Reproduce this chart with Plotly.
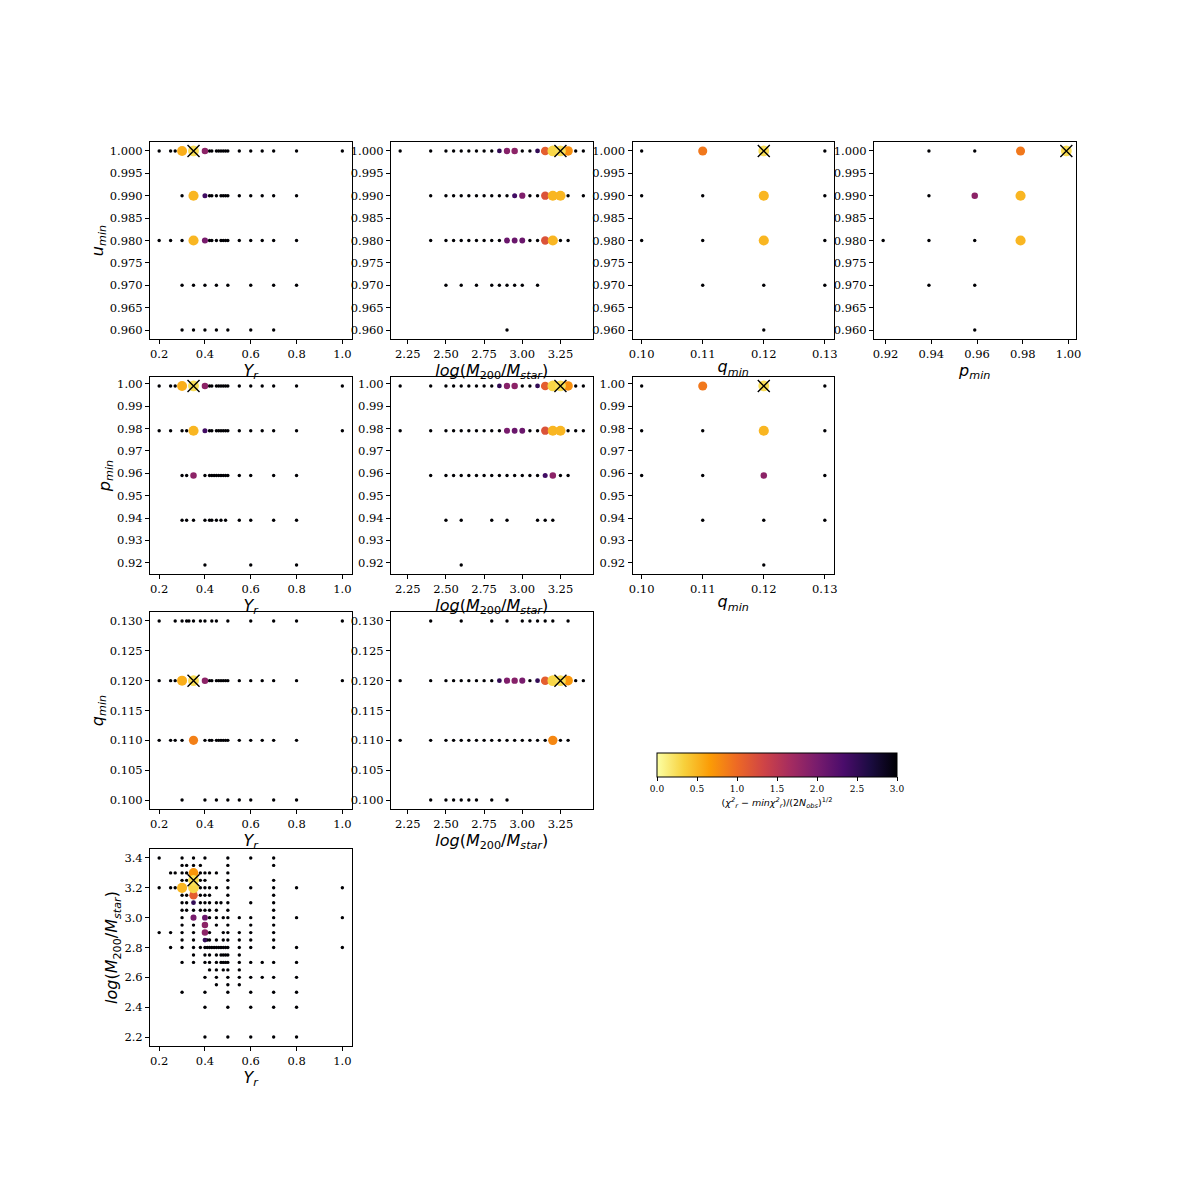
import plotly.graph_objects as go

# ---------------- data ----------------
# parameter values of the best model (marked with a cross)
BEST = {"Y_r": 0.35, "logM": 3.25, "q": 0.12, "p": 0.999, "u": 1.0}
BLACK_LEVEL = 3.0  # points at or beyond the top of the colour scale

# Panel 1: Y_r vs u_min  (rows: u_min -> Y_r values of black points)
P1_BLACK = {
    1.00: [0.2, 0.25, 0.27, 0.42, 0.43, 0.45, 0.46, 0.47, 0.48, 0.49, 0.5, 0.55, 0.6, 0.65, 0.7, 0.8, 1.0],
    0.99: [0.3, 0.42, 0.43, 0.45, 0.47, 0.48, 0.49, 0.5, 0.55, 0.6, 0.65, 0.7, 0.8],
    0.98: [0.2, 0.25, 0.3, 0.42, 0.43, 0.45, 0.47, 0.48, 0.49, 0.5, 0.55, 0.6, 0.65, 0.7, 0.8],
    0.97: [0.3, 0.35, 0.4, 0.45, 0.5, 0.6, 0.7, 0.8],
    0.96: [0.3, 0.35, 0.4, 0.45, 0.5, 0.6, 0.7],
}
P1_COLOR = [(0.3, 1.0, 0.55), (0.35, 1.0, 0.25), (0.4, 1.0, 1.85),
            (0.35, 0.99, 0.5), (0.4, 0.99, 2.4),
            (0.35, 0.98, 0.5), (0.4, 0.98, 2.0)]

# Panel 2: logM vs u_min
P2_BLACK = {
    1.00: [2.2, 2.4, 2.5, 2.55, 2.6, 2.65, 2.7, 2.75, 2.8, 3.0, 3.05, 3.35, 3.4],
    0.99: [2.4, 2.5, 2.55, 2.6, 2.65, 2.7, 2.75, 2.8, 2.85, 2.9, 3.05, 3.1, 3.3, 3.4],
    0.98: [2.4, 2.5, 2.55, 2.6, 2.65, 2.7, 2.75, 2.8, 2.85, 3.05, 3.1, 3.25, 3.3],
    0.97: [2.5, 2.6, 2.7, 2.8, 2.85, 2.9, 2.95, 3.0, 3.1],
    0.96: [2.9],
}
P2_COLOR = [(2.85, 1.0, 2.5), (2.9, 1.0, 1.9), (2.95, 1.0, 1.85), (3.1, 1.0, 2.5),
            (3.15, 1.0, 1.1), (3.2, 1.0, 0.3), (3.25, 1.0, 0.25), (3.3, 1.0, 0.75),
            (2.95, 0.99, 2.4), (3.0, 0.99, 1.95), (3.15, 0.99, 1.2), (3.2, 0.99, 0.5), (3.25, 0.99, 0.5),
            (2.9, 0.98, 2.1), (2.95, 0.98, 2.1), (3.0, 0.98, 2.1), (3.15, 0.98, 1.2), (3.2, 0.98, 0.5)]

# Panel 3: q_min vs u_min
P3_BLACK = {
    1.00: [0.10, 0.13],
    0.99: [0.10, 0.11, 0.13],
    0.98: [0.10, 0.11, 0.13],
    0.97: [0.11, 0.12, 0.13],
    0.96: [0.12],
}
P3_COLOR = [(0.11, 1.0, 0.9), (0.12, 1.0, 0.25), (0.12, 0.99, 0.5), (0.12, 0.98, 0.5)]

# Panel 4: p_min vs u_min
P4_BLACK = {
    1.00: [0.939, 0.959],
    0.99: [0.939],
    0.98: [0.919, 0.939, 0.959],
    0.97: [0.939, 0.959],
    0.96: [0.959],
}
P4_COLOR = [(0.979, 1.0, 0.9), (0.999, 1.0, 0.25), (0.959, 0.99, 1.85),
            (0.979, 0.99, 0.5), (0.979, 0.98, 0.5)]

# Panel 5: Y_r vs p_min
P5_BLACK = {
    0.999: [0.2, 0.25, 0.27, 0.42, 0.43, 0.45, 0.46, 0.47, 0.48, 0.49, 0.5, 0.55, 0.6, 0.65, 0.7, 0.8, 1.0],
    0.979: [0.2, 0.25, 0.3, 0.32, 0.42, 0.43, 0.45, 0.46, 0.47, 0.48, 0.49, 0.5, 0.55, 0.6, 0.65, 0.7, 0.8, 1.0],
    0.959: [0.3, 0.32, 0.4, 0.42, 0.43, 0.44, 0.45, 0.46, 0.47, 0.48, 0.49, 0.5, 0.55, 0.6, 0.7, 0.8],
    0.939: [0.3, 0.32, 0.35, 0.4, 0.42, 0.43, 0.45, 0.47, 0.49, 0.55, 0.6, 0.7, 0.8],
    0.919: [0.4, 0.6, 0.8],
}
P5_COLOR = [(0.3, 0.999, 0.55), (0.35, 0.999, 0.25), (0.4, 0.999, 1.85),
            (0.35, 0.979, 0.5), (0.4, 0.979, 2.4), (0.35, 0.959, 1.85)]

# Panel 6: logM vs p_min
P6_BLACK = {
    0.999: [2.2, 2.4, 2.5, 2.55, 2.6, 2.65, 2.7, 2.75, 2.8, 3.0, 3.05, 3.35, 3.4],
    0.979: [2.2, 2.4, 2.5, 2.55, 2.6, 2.65, 2.7, 2.75, 2.8, 2.85, 3.05, 3.1, 3.3, 3.35, 3.4],
    0.959: [2.4, 2.5, 2.55, 2.6, 2.65, 2.7, 2.75, 2.8, 2.85, 2.9, 2.95, 3.0, 3.05, 3.1, 3.25, 3.3],
    0.939: [2.5, 2.6, 2.8, 2.9, 3.1, 3.15, 3.2],
    0.919: [2.6],
}
P6_COLOR = [(2.85, 0.999, 2.5), (2.9, 0.999, 1.9), (2.95, 0.999, 1.85), (3.1, 0.999, 2.5),
            (3.15, 0.999, 1.1), (3.2, 0.999, 0.3), (3.25, 0.999, 0.25), (3.3, 0.999, 0.75),
            (2.9, 0.979, 2.0), (2.95, 0.979, 2.1), (3.0, 0.979, 2.1), (3.15, 0.979, 1.2),
            (3.2, 0.979, 0.5), (3.25, 0.979, 0.5),
            (3.15, 0.959, 2.4), (3.2, 0.959, 1.85)]

# Panel 7: q_min vs p_min
P7_BLACK = {
    0.999: [0.10, 0.13],
    0.979: [0.10, 0.11, 0.13],
    0.959: [0.10, 0.11, 0.13],
    0.939: [0.11, 0.12, 0.13],
    0.919: [0.12],
}
P7_COLOR = [(0.11, 0.999, 0.9), (0.12, 0.999, 0.25), (0.12, 0.979, 0.5), (0.12, 0.959, 1.85)]

# Panel 8: Y_r vs q_min
P8_BLACK = {
    0.13: [0.2, 0.27, 0.3, 0.32, 0.33, 0.35, 0.38, 0.4, 0.43, 0.45, 0.5, 0.6, 0.7, 0.8, 1.0],
    0.12: [0.2, 0.25, 0.27, 0.42, 0.43, 0.45, 0.46, 0.47, 0.48, 0.49, 0.5, 0.55, 0.6, 0.65, 0.7, 0.8, 1.0],
    0.11: [0.2, 0.25, 0.27, 0.3, 0.4, 0.42, 0.43, 0.45, 0.46, 0.47, 0.48, 0.49, 0.5, 0.55, 0.6, 0.65, 0.7, 0.8],
    0.10: [0.3, 0.4, 0.45, 0.5, 0.55, 0.6, 0.7, 0.8],
}
P8_COLOR = [(0.3, 0.12, 0.55), (0.35, 0.12, 0.25), (0.4, 0.12, 1.85), (0.35, 0.11, 0.85)]

# Panel 9: logM vs q_min
P9_BLACK = {
    0.13: [2.4, 2.6, 2.8, 2.9, 3.0, 3.05, 3.1, 3.15, 3.2, 3.3],
    0.12: [2.2, 2.4, 2.5, 2.55, 2.6, 2.65, 2.7, 2.75, 2.8, 3.05, 3.35, 3.4],
    0.11: [2.2, 2.4, 2.5, 2.55, 2.6, 2.65, 2.7, 2.75, 2.8, 2.85, 2.9, 2.95, 3.0, 3.05, 3.1, 3.15, 3.25, 3.3],
    0.10: [2.4, 2.5, 2.55, 2.6, 2.65, 2.7, 2.8, 2.9],
}
P9_COLOR = [(2.85, 0.12, 2.5), (2.9, 0.12, 1.95), (2.95, 0.12, 1.9), (3.0, 0.12, 2.0),
            (3.1, 0.12, 2.5), (3.15, 0.12, 1.1), (3.2, 0.12, 0.3), (3.25, 0.12, 0.25),
            (3.3, 0.12, 0.7), (3.2, 0.11, 0.8)]

# Panel 10: Y_r vs logM  (rows: logM -> Y_r values)
P10_BLACK = {
    3.40: [0.2, 0.3, 0.35, 0.4, 0.5, 0.6, 0.7],
    3.35: [0.3, 0.32, 0.35, 0.38, 0.5, 0.7],
    3.30: [0.25, 0.27, 0.3, 0.32, 0.38, 0.4, 0.42, 0.45, 0.5],
    3.25: [0.3, 0.32, 0.38, 0.4, 0.5, 0.7],
    3.20: [0.2, 0.25, 0.27, 0.38, 0.4, 0.42, 0.45, 0.5, 0.6, 0.7, 0.8, 1.0],
    3.15: [0.3, 0.32, 0.38, 0.4, 0.42, 0.5, 0.7],
    3.10: [0.3, 0.32, 0.38, 0.4, 0.42, 0.45, 0.47, 0.5, 0.6, 0.7],
    3.05: [0.3, 0.32, 0.35, 0.38, 0.4, 0.42, 0.45, 0.5, 0.7],
    3.00: [0.3, 0.42, 0.45, 0.48, 0.5, 0.55, 0.6, 0.7, 0.8, 1.0],
    2.95: [0.3, 0.35, 0.45, 0.5, 0.6, 0.7],
    2.90: [0.2, 0.25, 0.3, 0.35, 0.42, 0.48, 0.5, 0.55, 0.6, 0.7],
    2.85: [0.3, 0.35, 0.41, 0.42, 0.45, 0.48, 0.5, 0.55, 0.6, 0.7],
    2.80: [0.25, 0.3, 0.35, 0.38, 0.4, 0.41, 0.42, 0.43, 0.44, 0.45, 0.46, 0.47, 0.48, 0.49, 0.5,
           0.55, 0.6, 0.7, 0.8, 1.0],
    2.75: [0.35, 0.4, 0.42, 0.45, 0.47, 0.48, 0.49, 0.5, 0.55],
    2.70: [0.3, 0.35, 0.4, 0.42, 0.45, 0.47, 0.48, 0.49, 0.5, 0.55, 0.6, 0.65, 0.7, 0.8],
    2.65: [0.42, 0.45, 0.48, 0.5, 0.55],
    2.60: [0.4, 0.45, 0.5, 0.55, 0.6, 0.65, 0.7, 0.8],
    2.55: [0.45, 0.5, 0.55],
    2.50: [0.3, 0.4, 0.5, 0.6, 0.7, 0.8],
    2.40: [0.4, 0.5, 0.6, 0.7, 0.8],
    2.20: [0.4, 0.5, 0.6, 0.7, 0.8],
}
P10_COLOR = [(0.35, 3.3, 0.7), (0.35, 3.25, 0.25), (0.3, 3.2, 0.5), (0.35, 3.2, 0.3),
             (0.35, 3.15, 1.1), (0.35, 3.1, 2.5), (0.35, 3.0, 2.0), (0.4, 3.0, 2.1),
             (0.4, 2.95, 1.85), (0.4, 2.9, 1.85), (0.4, 2.85, 2.5)]

# axis ranges and tick values per parameter
RANGES = {"Y_r": [0.16, 1.04], "logM": [2.14, 3.46], "q": [0.0985, 0.1315],
          "p": [0.915, 1.003], "u": [0.958, 1.002]}
XTICKS = {"Y_r": [0.2, 0.4, 0.6, 0.8, 1.0], "logM": [2.25, 2.5, 2.75, 3.0, 3.25],
          "q": [0.10, 0.11, 0.12, 0.13], "p": [0.92, 0.94, 0.96, 0.98, 1.00]}
XFMT = {"Y_r": ".1f", "logM": ".2f", "q": ".2f", "p": ".2f"}
YTICKS = {"u": [0.960, 0.965, 0.970, 0.975, 0.980, 0.985, 0.990, 0.995, 1.000],
          "p": [0.92, 0.93, 0.94, 0.95, 0.96, 0.97, 0.98, 0.99, 1.00],
          "q": [0.100, 0.105, 0.110, 0.115, 0.120, 0.125, 0.130],
          "logM": [2.2, 2.4, 2.6, 2.8, 3.0, 3.2, 3.4]}
YFMT = {"u": ".3f", "p": ".2f", "q": ".3f", "logM": ".1f"}
LABELS = {"Y_r": "<i>Y<sub>r</sub></i>",
          "logM": "<i>log</i>(<i>M</i><sub>200</sub>/<i>M<sub>star</sub></i>)",
          "q": "<i>q<sub>min</sub></i>", "p": "<i>p<sub>min</sub></i>", "u": "<i>u<sub>min</sub></i>"}
CBAR_TICKS = [0.0, 0.5, 1.0, 1.5, 2.0, 2.5, 3.0]

# panels: (x param, y param, column, row, black rows, coloured points)
PANELS = [
    ("Y_r", "u", 0, 0, P1_BLACK, P1_COLOR),
    ("logM", "u", 1, 0, P2_BLACK, P2_COLOR),
    ("q", "u", 2, 0, P3_BLACK, P3_COLOR),
    ("p", "u", 3, 0, P4_BLACK, P4_COLOR),
    ("Y_r", "p", 0, 1, P5_BLACK, P5_COLOR),
    ("logM", "p", 1, 1, P6_BLACK, P6_COLOR),
    ("q", "p", 2, 1, P7_BLACK, P7_COLOR),
    ("Y_r", "q", 0, 2, P8_BLACK, P8_COLOR),
    ("logM", "q", 1, 2, P9_BLACK, P9_COLOR),
    ("Y_r", "logM", 0, 3, P10_BLACK, P10_COLOR),
]

# ---------------- layout geometry (page pixels) ----------------
OFF = 8            # default body margin of the html page
W = H = 1180       # figure size so that the page fits the window
COL_LEFT = [150, 391, 632.5, 874]
ROW_TOP = [142, 377, 612, 849]
PW, PH = 201.5, 197


def fx(px):
    return (px - OFF) / W


def fy(py):
    return 1 - (py - OFF) / H


TICK_FONT = dict(family="DejaVu Serif", size=11.5, color="black")
TITLE_FONT = dict(family="DejaVu Sans", size=16, color="black")

fig = go.Figure()
layout = {}

for i, (xp, yp, col, row, black, colored) in enumerate(PANELS):
    n = i + 1
    xa = "x" if n == 1 else f"x{n}"
    ya = "y" if n == 1 else f"y{n}"
    pts = []
    for yv, xs in black.items():
        for xv in xs:
            pts.append((xv, yv, BLACK_LEVEL))
    pts += list(colored)
    pts.sort(key=lambda t: -t[2])
    fig.add_trace(go.Scatter(
        x=[t[0] for t in pts], y=[t[1] for t in pts], mode="markers",
        xaxis=xa, yaxis=ya, showlegend=False, hoverinfo="skip",
        marker=dict(color=[t[2] for t in pts], coloraxis="coloraxis", opacity=1,
                    size=[3.4 + 2.7 * (3.0 - min(t[2], 3.0)) for t in pts],
                    line=dict(width=0)),
    ))
    fig.add_trace(go.Scatter(
        x=[BEST[xp]], y=[BEST[yp]], mode="markers", xaxis=xa, yaxis=ya,
        showlegend=False, hoverinfo="skip",
        marker=dict(symbol="x-thin", size=12, color="black", opacity=1,
                    line=dict(width=1.4, color="black")),
    ))
    common = dict(showline=True, mirror=True, linecolor="black", linewidth=1,
                  ticks="outside", ticklen=4, tickwidth=1, tickcolor="black",
                  showgrid=False, zeroline=False, tickfont=TICK_FONT, fixedrange=True)
    xkey = "xaxis" if n == 1 else f"xaxis{n}"
    ykey = "yaxis" if n == 1 else f"yaxis{n}"
    layout[xkey] = dict(common, domain=[fx(COL_LEFT[col]), fx(COL_LEFT[col] + PW)],
                        anchor=ya, range=RANGES[xp],
                        tickmode="array", tickvals=XTICKS[xp],
                        ticktext=[format(v, XFMT[xp]) for v in XTICKS[xp]],
                        title=dict(text=LABELS[xp], font=TITLE_FONT, standoff=1))
    ydict = dict(common, domain=[fy(ROW_TOP[row] + PH), fy(ROW_TOP[row])],
                 anchor=xa, range=RANGES[yp],
                 tickmode="array", tickvals=YTICKS[yp],
                 ticktext=[format(v, YFMT[yp]) for v in YTICKS[yp]])
    if col == 0:
        ydict["title"] = dict(text=LABELS[yp], font=TITLE_FONT, standoff=2)
    layout[ykey] = ydict

cb_left, cb_right, cb_top, cb_bottom = 657, 897, 753, 777
layout["coloraxis"] = dict(
    cmin=0, cmax=3, colorscale="Inferno", reversescale=True,
    colorbar=dict(
        orientation="h", x=fx((cb_left + cb_right) / 2), xanchor="center",
        y=fy(cb_top), yanchor="top", len=(cb_right - cb_left) / W,
        lenmode="fraction", thickness=cb_bottom - cb_top, thicknessmode="pixels",
        xpad=0, ypad=0, outlinewidth=1, outlinecolor="black",
        ticks="outside", ticklen=4, tickcolor="black",
        tickvals=CBAR_TICKS, ticktext=[format(v, ".1f") for v in CBAR_TICKS],
        tickfont=dict(family="DejaVu Serif", size=9, color="black"),
        title=dict(text="(<i>χ<sup>2</sup><sub>r</sub></i> − <i>minχ<sup>2</sup><sub>r</sub></i>)/(2<i>N<sub>obs</sub></i>)<sup>1/2</sup>",
                   side="bottom", font=dict(family="DejaVu Sans", size=9.5, color="black")),
    ),
)

fig.update_layout(
    width=W, height=H, margin=dict(l=0, r=0, t=0, b=0, autoexpand=False),
    paper_bgcolor="white", plot_bgcolor="white", showlegend=False,
    **layout,
)

fig.write_html("out.html")
